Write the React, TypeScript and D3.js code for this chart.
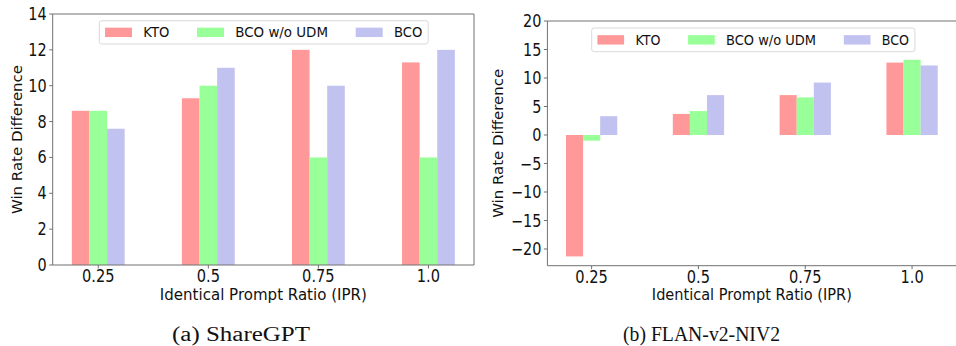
import React from "react";
import { scaleLinear } from "d3";

// values
const categories = [0.25, 0.5, 0.75, 1.0];
const tickLabels = ["0.25", "0.5", "0.75", "1.0"];
const seriesNames = ["KTO", "BCO w/o UDM", "BCO"];
const seriesColors = ["#ff9999", "#99ff99", "#c2c2f0"];

const shareGptKto = [8.6, 9.3, 12.0, 11.3];
const shareGptNoUdm = [8.6, 10.0, 6.0, 6.0];
const shareGptBco = [7.6, 11.0, 10.0, 12.0];
const shareGptYTicks = [0, 2, 4, 6, 8, 10, 12, 14];

const flanKto = [-21.3, 3.7, 7.0, 12.7];
const flanNoUdm = [-1.0, 4.2, 6.6, 13.2];
const flanBco = [3.3, 7.0, 9.2, 12.2];
const flanYTicks = [-20, -15, -10, -5, 0, 5, 10, 15, 20];

const BAR_W = 0.04;
const X_DOMAIN: [number, number] = [0.1465, 1.1035];
const AXIS_COLOR = "#707070";
const SANS = "'DejaVu Sans', sans-serif";
const SQUEEZE = 0.86; // the figure is a bit narrower than tall

type PanelProps = {
  series: number[][];
  yDomain: [number, number];
  yTicks: number[];
  frame: { left: number; right: number; top: number; bottom: number };
  showRight: boolean;
  legend: { x: number; y: number; h: number; textW: number[]; patchW: number };
  xLabelW: number;
  yLabelX: number;
  caption: string;
  captionX: number;
  captionW: number;
};

function Panel(p: PanelProps) {
  const { left, right, top, bottom } = p.frame;
  const x = scaleLinear().domain(X_DOMAIN).range([left, right]);
  const y = scaleLinear().domain(p.yDomain).range([bottom, top]);
  const bw = x(BAR_W) - x(0);
  const offsets = [-BAR_W, 0, BAR_W];

  // legend columns
  let cx = p.legend.x + 5.7;
  const items = seriesNames.map((name, i) => {
    const item = { name, px: cx, tx: cx + p.legend.patchW + 11.3, tw: p.legend.textW[i] };
    cx = item.tx + item.tw + 27.7;
    return item;
  });
  const legendW = items[2].tx + items[2].tw + 5.8 - p.legend.x;
  const midY = p.legend.y + p.legend.h / 2;

  return (
    <g>
      {p.series.map((vals, s) =>
        vals.map((v, i) => {
          const y0 = y(0);
          const yv = y(v);
          return (
            <rect
              key={`${s}-${i}`}
              x={x(categories[i] + offsets[s]) - bw / 2}
              y={Math.min(y0, yv)}
              width={bw}
              height={Math.abs(y0 - yv)}
              fill={seriesColors[s]}
            />
          );
        })
      )}

      {/* spines */}
      <line x1={left} x2={left} y1={top} y2={bottom} stroke={AXIS_COLOR} strokeWidth={1} />
      <line x1={left} x2={right} y1={bottom} y2={bottom} stroke={AXIS_COLOR} strokeWidth={1} />
      <line x1={left} x2={right} y1={top} y2={top} stroke={AXIS_COLOR} strokeWidth={1} />
      {p.showRight && <line x1={right} x2={right} y1={top} y2={bottom} stroke={AXIS_COLOR} strokeWidth={1} />}

      {/* y ticks */}
      {p.yTicks.map((t) => (
        <g key={t}>
          <line x1={left - 3.5} x2={left} y1={y(t)} y2={y(t)} stroke={AXIS_COLOR} />
          <text
            transform={`translate(${left - 6},${y(t)}) scale(${SQUEEZE},1)`}
            dy="0.36em"
            textAnchor="end"
            fontSize={16.8}
            fontFamily={SANS}
            fill="#111"
          >
            {t < 0 ? "\u2212" + Math.abs(t) : String(t)}
          </text>
        </g>
      ))}

      {/* x ticks */}
      {categories.map((c, i) => (
        <g key={c}>
          <line x1={x(c)} x2={x(c)} y1={bottom} y2={bottom + 3.5} stroke={AXIS_COLOR} />
          <text
            transform={`translate(${x(c)},${bottom + 17}) scale(${SQUEEZE},1)`}
            textAnchor="middle"
            fontSize={17}
            fontFamily={SANS}
            fill="#111"
          >
            {tickLabels[i]}
          </text>
        </g>
      ))}

      <text
        x={(left + right) / 2}
        y={300}
        textAnchor="middle"
        fontSize={16.5}
        fontFamily={SANS}
        fill="#111"
        textLength={p.xLabelW}
        lengthAdjust="spacingAndGlyphs"
      >
        Identical Prompt Ratio (IPR)
      </text>
      <text
        transform={`translate(${p.yLabelX},${(top + bottom) / 2}) rotate(-90)`}
        textAnchor="middle"
        dy="0.36em"
        fontSize={14.8}
        fontFamily={SANS}
        fill="#111"
        textLength={149}
        lengthAdjust="spacingAndGlyphs"
      >
        Win Rate Difference
      </text>

      {/* legend */}
      <rect
        x={p.legend.x}
        y={p.legend.y}
        width={legendW}
        height={p.legend.h}
        rx={2.5}
        fill="#fff"
        fillOpacity={0.8}
        stroke="#d9d9d9"
      />
      {items.map((it, i) => (
        <g key={it.name}>
          <rect x={it.px} y={midY - 4.7} width={p.legend.patchW} height={9.4} fill={seriesColors[i]} />
          <text
            x={it.tx}
            y={midY}
            dy="0.36em"
            fontSize={14}
            fontFamily={SANS}
            fill="#111"
            textLength={it.tw}
            lengthAdjust="spacingAndGlyphs"
          >
            {it.name}
          </text>
        </g>
      ))}

      <text
        x={p.captionX}
        y={341}
        textAnchor="middle"
        fontSize={20}
        fontFamily="'Liberation Serif', serif"
        fill="#111"
        textLength={p.captionW}
        lengthAdjust="spacingAndGlyphs"
      >
        {p.caption}
      </text>
    </g>
  );
}

export default function App() {
  return (
    <svg
      width={956}
      height={346}
      style={{ position: "absolute", left: 0, top: 0, background: "#fff" }}
    >
      <rect width={956} height={346} fill="#fff" />
      <Panel
        series={[shareGptKto, shareGptNoUdm, shareGptBco]}
        yDomain={[0, 14]}
        yTicks={shareGptYTicks}
        frame={{ left: 52.7, right: 474, top: 14, bottom: 265 }}
        showRight={true}
        legend={{ x: 99.3, y: 20.7, h: 23.3, textW: [26, 92.7, 28.4], patchW: 27 }}
        xLabelW={207}
        yLabelX={16.5}
        caption="(a) ShareGPT"
        captionX={241}
        captionW={138}
      />
      <Panel
        series={[flanKto, flanNoUdm, flanBco]}
        yDomain={[-22.93, 20]}
        yTicks={flanYTicks}
        frame={{ left: 547.4, right: 956.3, top: 21, bottom: 265.7 }}
        showRight={false}
        legend={{ x: 591.7, y: 28, h: 23.7, textW: [25, 90, 27.3], patchW: 26.7 }}
        xLabelW={200}
        yLabelX={498}
        caption="(b) FLAN-v2-NIV2"
        captionX={701.5}
        captionW={157}
      />
    </svg>
  );
}
